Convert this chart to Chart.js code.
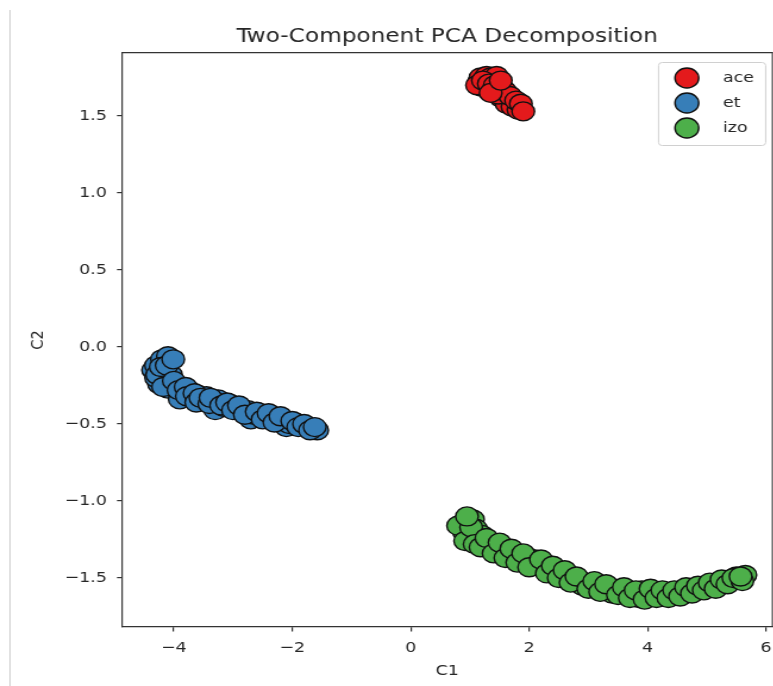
<!DOCTYPE html>
<html>
<head>
    <title>Two-Component PCA Decomposition</title>
    <script src="https://cdn.jsdelivr.net/npm/chart.js"></script>
    <style>
        body {
            margin: 0;
            background-color: #ffffff;
            overflow: hidden;
        }
        #edge {
            position: absolute;
            left: 9px;
            top: 10px;
            width: 2px;
            height: 676px;
            background-color: #e2e2e2;
        }
        /* the reference figure is stretched sideways, so the canvas is too */
        #pcaChart {
            position: absolute;
            left: 0;
            top: 0;
            transform: scaleX(1.19);
            transform-origin: 0 0;
        }
    </style>
</head>
<body>

<canvas id="pcaChart" width="650" height="686"></canvas>
<div id="edge"></div>

<script>
// series names and the two principal components
const seriesNames = ['ace', 'et', 'izo'];
const seriesColors = ['#e41a1c', '#377eb8', '#4daf4a'];

const aceC1 = [1.15, 1.18, 1.25, 1.28, 1.35, 1.40, 1.45, 1.20, 1.30, 1.38, 1.45, 1.50, 1.55, 1.58, 1.65, 1.70, 1.75, 1.80, 1.85, 1.52, 1.62, 1.72, 1.82,
               1.12, 1.22, 1.32, 1.42, 1.48, 1.60, 1.68, 1.78, 1.86, 1.35, 1.52, 1.90];
const aceC2 = [1.72, 1.75, 1.70, 1.76, 1.75, 1.72, 1.76, 1.69, 1.68, 1.67, 1.69, 1.66, 1.68, 1.63, 1.61, 1.60, 1.58, 1.57, 1.55, 1.62, 1.58, 1.56, 1.54,
               1.70, 1.73, 1.71, 1.70, 1.64, 1.66, 1.63, 1.60, 1.58, 1.65, 1.73, 1.53];

const etC1 = [-4.35, -4.30, -4.25, -4.20, -4.30, -4.15, -4.10, -4.20, -4.05, -3.95, -4.10, -3.85, -3.75, -3.90, -3.70, -3.60, -3.50, -3.45, -3.35, -3.30,
              -3.25, -3.15, -3.05, -2.95, -2.85, -2.75, -2.70, -2.65, -2.55, -2.45, -2.35, -2.25, -2.15, -2.10, -2.05, -1.95, -1.85, -1.75, -1.65, -1.58,
              -4.28, -4.22, -4.12, -4.18, -4.00, -3.92, -3.80, -3.78, -3.65, -3.62, -3.55, -3.40, -3.38, -3.20, -3.10, -3.00, -2.90, -2.80, -2.60, -2.50,
              -2.40, -2.30, -2.20, -2.00, -1.90, -1.80, -1.70, -1.62, -4.01];
const etC2 = [-0.15, -0.12, -0.24, -0.08, -0.20, -0.22, -0.06, -0.17, -0.18, -0.25, -0.27, -0.30, -0.28, -0.34, -0.33, -0.31, -0.35, -0.32, -0.36, -0.41,
              -0.34, -0.39, -0.37, -0.40, -0.42, -0.41, -0.47, -0.44, -0.43, -0.46, -0.45, -0.48, -0.47, -0.52, -0.50, -0.49, -0.51, -0.52, -0.53, -0.54,
              -0.18, -0.13, -0.12, -0.26, -0.22, -0.28, -0.26, -0.32, -0.30, -0.36, -0.33, -0.37, -0.33, -0.38, -0.36, -0.41, -0.38, -0.44, -0.42, -0.47,
              -0.43, -0.49, -0.45, -0.48, -0.52, -0.50, -0.54, -0.52, -0.08];

const izoC1 = [0.85, 0.90, 1.00, 1.05, 1.10, 1.15, 1.20, 1.25, 1.30, 1.35, 1.45, 1.55, 1.65, 1.75, 1.85, 1.95, 2.05, 2.10, 2.15, 2.25, 2.35, 2.45, 2.55, 2.65,
               2.75, 2.85, 2.90, 2.95, 3.05, 3.15, 3.25, 3.35, 3.40, 3.45, 3.55, 3.65, 3.75, 3.85, 3.90, 4.00, 4.10, 4.20, 4.30, 4.40, 4.50, 4.60, 4.70, 4.80,
               4.90, 5.00, 5.10, 5.20, 5.30, 5.40, 5.50, 5.65,
               0.80, 0.92, 1.02, 1.08, 1.18, 1.28, 1.40, 1.50, 1.60, 1.70, 1.80, 1.90, 2.00, 2.20, 2.30, 2.40, 2.50, 2.60, 2.70, 2.80, 3.00, 3.10, 3.20, 3.30,
               3.50, 3.60, 3.70, 3.80, 3.95, 4.05, 4.15, 4.25, 4.35, 4.45, 4.55, 4.65, 4.75, 4.85, 4.95, 5.05, 5.15, 5.25, 5.35, 5.45, 5.60, 0.95, 5.57];
const izoC2 = [-1.15, -1.20, -1.22, -1.12, -1.18, -1.25, -1.22, -1.28, -1.30, -1.27, -1.31, -1.30, -1.34, -1.33, -1.37, -1.36, -1.40, -1.38, -1.41, -1.43,
               -1.45, -1.46, -1.48, -1.49, -1.51, -1.52, -1.55, -1.53, -1.54, -1.55, -1.56, -1.57, -1.60, -1.57, -1.58, -1.59, -1.60, -1.63, -1.58, -1.61,
               -1.59, -1.62, -1.60, -1.61, -1.60, -1.59, -1.58, -1.58, -1.56, -1.56, -1.55, -1.54, -1.52, -1.51, -1.49, -1.48,
               -1.16, -1.26, -1.17, -1.28, -1.30, -1.24, -1.34, -1.27, -1.37, -1.31, -1.40, -1.34, -1.43, -1.38, -1.47, -1.42, -1.50, -1.45, -1.53, -1.49,
               -1.57, -1.52, -1.59, -1.54, -1.61, -1.56, -1.63, -1.58, -1.64, -1.57, -1.63, -1.58, -1.63, -1.58, -1.62, -1.56, -1.60, -1.55, -1.58, -1.53,
               -1.57, -1.51, -1.54, -1.50, -1.52, -1.10, -1.49];

const xTicks = [-4, -2, 0, 2, 4, 6];
const yTicks = [-1.5, -1.0, -0.5, 0.0, 0.5, 1.0, 1.5];

const textColor = '#262626';
const axisColor = '#333333';
const font = 'DejaVu Sans';

function toPoints(xs, ys) {
    return xs.map((x, i) => ({ x: x, y: ys[i] }));
}

function minusSign(v, digits) {
    return v.toFixed(digits).replace('-', '\u2212');
}

const seriesData = [toPoints(aceC1, aceC2), toPoints(etC1, etC2), toPoints(izoC1, izoC2)];

// top and right spines of the frame
const framePlugin = {
    id: 'frame',
    afterDraw(chart) {
        const a = chart.chartArea;
        const ctx = chart.ctx;
        ctx.save();
        ctx.strokeStyle = axisColor;
        ctx.lineWidth = 1.2;
        ctx.beginPath();
        ctx.moveTo(a.left, a.top);
        ctx.lineTo(a.right, a.top);
        ctx.lineTo(a.right, a.bottom);
        ctx.stroke();
        ctx.restore();
    }
};

// boxed legend in the upper right corner
const boxLegendPlugin = {
    id: 'boxLegend',
    afterDraw(chart) {
        const a = chart.chartArea;
        const ctx = chart.ctx;
        const w = 90, h = 83;
        const left = a.right - 6.3 - w;
        const top = a.top + 9.3;
        ctx.save();
        ctx.fillStyle = 'rgba(255,255,255,0.8)';
        ctx.strokeStyle = '#d0d0d0';
        ctx.lineWidth = 1;
        ctx.beginPath();
        ctx.roundRect(left + 0.5, top + 0.5, w, h, 3);
        ctx.fill();
        ctx.stroke();
        chart.data.datasets.forEach((ds, i) => {
            const cy = top + 16 + i * 25;
            ctx.beginPath();
            ctx.arc(left + 24.3, cy, 10, 0, Math.PI * 2);
            ctx.fillStyle = ds.backgroundColor;
            ctx.fill();
            ctx.strokeStyle = ds.borderColor;
            ctx.lineWidth = 1.4;
            ctx.stroke();
            ctx.fillStyle = textColor;
            ctx.font = '14.7px "' + font + '"';
            ctx.textBaseline = 'middle';
            ctx.textAlign = 'left';
            ctx.fillText(ds.label, left + 54.6, cy);
        });
        ctx.restore();
    }
};

const ctx = document.getElementById('pcaChart').getContext('2d');
new Chart(ctx, {
    type: 'scatter',
    data: {
        datasets: seriesNames.map((name, i) => ({
            label: name,
            data: seriesData[i],
            backgroundColor: seriesColors[i],
            borderColor: '#111111',
            borderWidth: 1.4,
            pointRadius: 9.5,
            pointHoverRadius: 9.5
        }))
    },
    options: {
        responsive: false,
        animation: false,
        layout: {
            autoPadding: false,
            padding: { left: 0, right: 0.8, top: 0, bottom: 0 }
        },
        plugins: {
            legend: { display: false },
            tooltip: { enabled: false },
            title: {
                display: true,
                text: 'Two-Component PCA Decomposition',
                fullSize: false,
                color: textColor,
                font: { family: font, size: 19.5, weight: 'normal' },
                padding: { top: 25.6, bottom: 3.7 }
            }
        },
        scales: {
            x: {
                type: 'linear',
                min: -4.88,
                max: 6.11,
                afterBuildTicks: s => { s.ticks = xTicks.map(v => ({ value: v })); },
                afterFit: s => { s.height = 59; s.paddingLeft = 0; s.paddingRight = 0; },
                ticks: {
                    autoSkip: false,
                    maxRotation: 0,
                    padding: 8,
                    color: textColor,
                    font: { family: font, size: 14.7 },
                    callback: v => minusSign(v, 0)
                },
                grid: { drawOnChartArea: false, tickLength: 4.5, color: axisColor, lineWidth: 1.2 },
                border: { color: axisColor, width: 1.2 },
                title: {
                    display: true,
                    text: 'C1',
                    color: textColor,
                    font: { family: font, size: 14.7 },
                    padding: { top: 0, bottom: 6.2 }
                }
            },
            y: {
                type: 'linear',
                min: -1.818,
                max: 1.911,
                afterBuildTicks: s => { s.ticks = yTicks.map(v => ({ value: v })); },
                afterFit: s => { s.width = 102.3; s.paddingTop = 0; s.paddingBottom = 0; },
                ticks: {
                    autoSkip: false,
                    padding: 8.5,
                    color: textColor,
                    font: { family: font, size: 14.7 },
                    callback: v => minusSign(v, 1)
                },
                grid: { drawOnChartArea: false, tickLength: 4, color: axisColor, lineWidth: 1.2 },
                border: { color: axisColor, width: 1.2 },
                title: {
                    display: true,
                    text: 'C2',
                    color: textColor,
                    font: { family: font, size: 14.7 },
                    padding: { top: 23.2, bottom: 0 }
                }
            }
        }
    },
    plugins: [framePlugin, boxLegendPlugin]
});
</script>

</body>
</html>
